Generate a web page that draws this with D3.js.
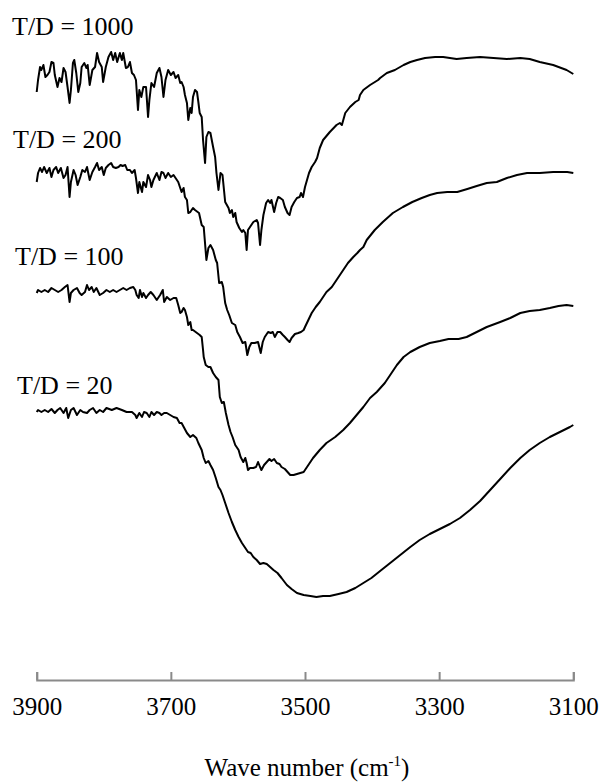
<!DOCTYPE html>
<html>
<head>
<meta charset="utf-8">
<script src="https://cdn.jsdelivr.net/npm/d3@7"></script>
<style>
  html, body { margin: 0; padding: 0; background: #fff; }
  svg { display: block; }
  text { font-family: "Liberation Serif", "Times New Roman", serif; fill: #000; }
</style>
</head>
<body>
<svg id="chart" width="605" height="782"></svg>
<script>
// ---- DATA (wave number cm-1, transmittance in arbitrary offset units) ----
const seriesNames = ["T/D = 1000", "T/D = 200", "T/D = 100", "T/D = 20"];

const td1000 = [
[3900,588],[3898,600],[3895,613],[3893,610],[3890,615],[3887,603],[3884,605],[3881,608],[3878,618],[3875,617],
[3873,605],[3869,593],[3866,602],[3863,598],[3860,612],[3857,608],[3854,593],[3851,577],[3849,590],[3846,617],
[3844,620],[3841,607],[3838,588],[3835,597],[3833,613],[3829,617],[3826,612],[3824,615],[3821,595],[3817,610],
[3813,613],[3810,627],[3807,618],[3803,613],[3801,598],[3797,613],[3793,623],[3789,628],[3786,620],[3783,627],
[3780,618],[3776,627],[3773,620],[3771,627],[3767,612],[3764,613],[3761,618],[3758,607],[3755,605],[3752,600],
[3749,570],[3747,590],[3744,583],[3741,593],[3737,593],[3734,563],[3732,580],[3729,597],[3725,593],[3721,607],
[3717,612],[3714,603],[3711,583],[3708,600],[3704,610],[3700,605],[3696,608],[3693,602],[3689,605],[3686,597],
[3684,598],[3681,593],[3679,585],[3676,577],[3674,560],[3671,572],[3669,567],[3667,583],[3664,590],[3661,588],
[3659,578],[3657,567],[3654,563],[3652,540],[3649,517],[3647,543],[3644,548],[3641,547],[3637,533],[3634,523],
[3632,507],[3629,490],[3626,507],[3623,505],[3619,478],[3614,472],[3612,467],[3609,470],[3607,463],[3604,467],
[3602,458],[3598,452],[3594,448],[3592,450],[3589,447],[3587,430],[3585,450],[3582,453],[3577,458],[3572,460],
[3570,457],[3567,435],[3565,450],[3562,465],[3558,477],[3555,480],[3552,477],[3550,480],[3546,468],[3543,477],
[3540,483],[3537,482],[3533,480],[3530,473],[3526,467],[3523,465],[3520,473],[3516,478],[3512,482],[3508,483],
[3506,487],[3503,483],[3500,493],[3497,500],[3494,507],[3490,513],[3485,518],[3482,522],[3478,532],[3473,540],
[3463,548],[3453,555],[3448,557],[3445,555],[3440,567],[3433,573],[3425,578],[3420,580],[3418,585],[3413,590],
[3403,595],[3391,600],[3388,602],[3378,607],[3366,610],[3353,615],[3343,618],[3333,620],[3321,622],[3306,623],
[3294,623],[3274,621],[3259,622],[3239,623],[3219,622],[3199,621],[3179,622],[3165,621],[3150,618],[3130,615],
[3110,610],[3100,606]
];

const td200 = [
[3900,498],[3898,507],[3895,512],[3892,508],[3889,513],[3885,507],[3881,512],[3878,503],[3875,510],[3871,513],
[3868,507],[3864,512],[3860,502],[3857,505],[3854,513],[3851,483],[3849,498],[3845,510],[3842,505],[3839,495],
[3835,503],[3832,510],[3828,508],[3825,513],[3821,500],[3817,508],[3813,513],[3810,517],[3807,510],[3803,513],
[3800,505],[3797,512],[3793,515],[3789,517],[3786,513],[3782,512],[3778,513],[3775,515],[3772,514],[3768,515],
[3765,510],[3761,510],[3758,507],[3754,510],[3752,502],[3749,487],[3747,498],[3743,488],[3741,498],[3737,493],
[3734,505],[3731,500],[3729,493],[3726,500],[3721,507],[3717,500],[3714,508],[3711,507],[3708,502],[3704,507],
[3700,503],[3696,505],[3693,502],[3689,498],[3686,492],[3684,488],[3681,492],[3679,483],[3676,480],[3674,467],
[3671,468],[3667,472],[3664,470],[3658,467],[3654,455],[3651,453],[3647,420],[3644,432],[3641,435],[3637,430],
[3633,420],[3631,417],[3628,397],[3624,398],[3622,393],[3619,377],[3616,370],[3613,365],[3609,357],[3604,355],
[3601,348],[3597,343],[3593,337],[3589,338],[3586,325],[3583,333],[3580,337],[3575,337],[3570,338],[3566,327],
[3563,338],[3560,343],[3555,348],[3551,347],[3548,348],[3545,343],[3541,348],[3537,348],[3533,345],[3530,343],
[3526,340],[3523,338],[3520,342],[3515,346],[3510,347],[3506,348],[3502,350],[3500,353],[3495,360],[3490,367],
[3484,373],[3478,378],[3473,383],[3468,388],[3460,393],[3453,400],[3448,405],[3443,410],[3436,417],[3428,423],
[3422,427],[3418,430],[3413,433],[3408,440],[3396,450],[3384,458],[3369,467],[3354,473],[3340,478],[3326,482],
[3314,485],[3303,487],[3288,488],[3273,488],[3258,491],[3244,494],[3229,497],[3214,498],[3199,502],[3184,505],
[3169,507],[3150,507],[3130,508],[3109,508],[3100,507]
];

const td100 = [
[3900,387],[3898,390],[3893,388],[3888,390],[3883,388],[3878,392],[3873,390],[3868,388],[3863,390],[3858,393],
[3854,395],[3851,378],[3849,387],[3845,390],[3840,392],[3836,387],[3833,385],[3828,388],[3825,395],[3822,390],
[3818,393],[3815,388],[3811,392],[3806,385],[3801,387],[3796,390],[3791,388],[3786,390],[3781,388],[3776,390],
[3771,392],[3766,390],[3761,392],[3756,393],[3753,390],[3751,385],[3748,382],[3746,390],[3743,383],[3741,387],
[3737,382],[3734,385],[3730,388],[3726,385],[3721,380],[3716,385],[3712,390],[3710,378],[3706,383],[3701,380],
[3696,382],[3692,382],[3689,375],[3686,367],[3684,368],[3681,372],[3679,370],[3676,363],[3674,355],[3671,358],
[3669,350],[3667,350],[3661,347],[3657,345],[3654,343],[3652,330],[3651,323],[3648,315],[3644,313],[3641,313],
[3637,307],[3633,303],[3629,300],[3627,283],[3624,277],[3621,278],[3618,267],[3614,255],[3611,248],[3608,243],
[3604,235],[3599,230],[3596,223],[3592,218],[3589,222],[3587,217],[3585,210],[3582,212],[3577,212],[3573,213],
[3570,218],[3567,213],[3565,210],[3561,215],[3557,218],[3553,221],[3550,219],[3546,221],[3542,217],[3538,216],
[3535,213],[3530,211],[3526,208],[3522,205],[3517,205],[3512,206],[3507,207],[3502,208],[3498,212],[3495,215],
[3488,222],[3478,230],[3468,237],[3455,243],[3443,250],[3433,257],[3423,265],[3413,273],[3403,282],[3393,288],
[3381,297],[3372,306],[3363,315],[3353,323],[3343,328],[3329,333],[3314,337],[3299,339],[3286,341],[3271,341],
[3259,343],[3244,348],[3229,353],[3209,358],[3194,362],[3179,367],[3165,369],[3150,370],[3135,372],[3122,374],
[3110,375],[3100,374]
];

const td20 = [
[3900,268],[3898,270],[3893,268],[3888,270],[3883,268],[3878,271],[3873,267],[3869,270],[3865,272],[3860,267],
[3856,272],[3853,262],[3849,270],[3845,272],[3840,265],[3835,270],[3831,268],[3825,267],[3821,270],[3816,272],
[3811,267],[3806,270],[3801,268],[3796,272],[3788,270],[3781,272],[3773,270],[3766,268],[3758,268],[3753,265],
[3751,262],[3747,267],[3743,263],[3740,268],[3736,267],[3732,263],[3729,268],[3725,265],[3721,268],[3717,267],
[3714,265],[3710,267],[3706,267],[3701,265],[3696,263],[3691,262],[3687,257],[3684,257],[3680,252],[3676,247],
[3671,243],[3667,245],[3662,242],[3659,237],[3654,230],[3651,222],[3648,217],[3644,219],[3641,215],[3637,210],
[3633,202],[3629,193],[3626,190],[3623,185],[3619,177],[3614,167],[3609,158],[3604,150],[3599,143],[3594,137],
[3589,132],[3585,128],[3581,127],[3577,123],[3572,120],[3567,116],[3562,117],[3557,116],[3552,113],[3547,110],
[3541,107],[3535,102],[3527,95],[3520,91],[3512,87],[3502,85],[3492,84],[3483,83],[3473,84],[3463,84],
[3450,86],[3438,88],[3425,92],[3413,97],[3401,102],[3388,109],[3373,117],[3358,125],[3343,133],[3329,140],
[3314,146],[3299,151],[3284,156],[3269,162],[3254,170],[3239,179],[3224,190],[3209,201],[3194,212],[3179,222],
[3165,230],[3150,237],[3135,243],[3120,248],[3105,253],[3100,255]
];

const xTicks = [3900, 3700, 3500, 3300, 3100];
const xTitle = "Wave number (cm";
const xTitleSup = "-1";

// ---- LAYOUT ----
const svg = d3.select("#chart");
const axisY = 680;
const x = d3.scaleLinear().domain([3900, 3100]).range([36.7, 573.3]);
const y = d3.scaleLinear().domain([0, 680]).range([680, 0]);

const series = [td1000, td200, td100, td20];
const labelPos = [[12, 35], [13, 148], [15, 265], [17, 394]];

const line = d3.line().x(d => x(d[0])).y(d => y(d[1]));

svg.append("g").selectAll("path")
  .data(series)
  .join("path")
  .attr("d", line)
  .attr("fill", "none")
  .attr("stroke", "#000")
  .attr("stroke-width", 2)
  .attr("stroke-linejoin", "round");

svg.append("g").selectAll("text")
  .data(seriesNames)
  .join("text")
  .attr("x", (d, i) => labelPos[i][0])
  .attr("y", (d, i) => labelPos[i][1])
  .attr("font-size", 26)
  .text(d => d);

// axis
const axis = d3.axisBottom(x)
  .tickValues(xTicks)
  .tickFormat(d3.format("d"))
  .tickSizeInner(-8)
  .tickSizeOuter(-8)
  .tickPadding(17);

const gAxis = svg.append("g")
  .attr("transform", `translate(0,${axisY})`)
  .call(axis);
gAxis.select(".domain").attr("stroke", "#8a8a8a").attr("stroke-width", 2);
gAxis.selectAll(".tick line").attr("stroke", "#8a8a8a").attr("stroke-width", 2);
gAxis.selectAll(".tick text")
  .attr("font-size", 25)
  .attr("font-family", "Liberation Serif, Times New Roman, serif")
  .attr("fill", "#000");

const title = svg.append("text")
  .attr("x", 307)
  .attr("y", 776)
  .attr("text-anchor", "middle")
  .attr("font-size", 25);
title.append("tspan").text(xTitle);
title.append("tspan").attr("font-size", 15).attr("dy", -10).text(xTitleSup);
title.append("tspan").attr("dy", 10).text(")");
</script>
</body>
</html>
